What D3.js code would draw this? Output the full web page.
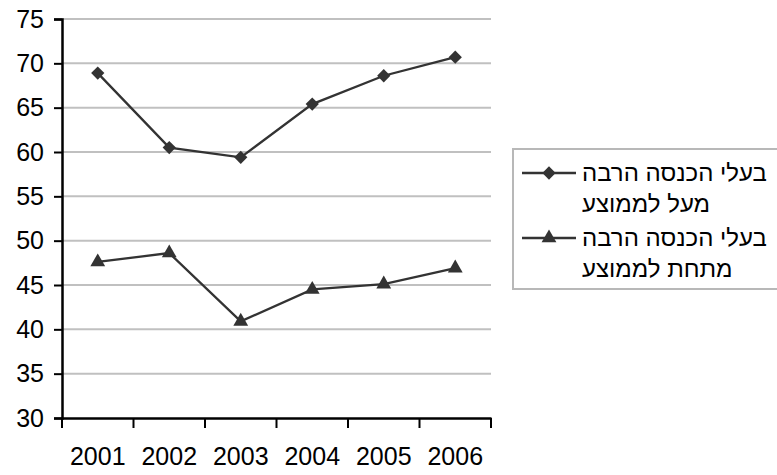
<!DOCTYPE html>
<html>
<head>
<meta charset="utf-8">
<script src="https://cdn.jsdelivr.net/npm/d3@7"></script>
<style>
  body { margin: 0; background: #fff; }
  svg { display: block; font-family: Arial, "Liberation Sans", sans-serif; }
</style>
</head>
<body>
<svg width="777" height="475"></svg>
<script>
const years = ["2001", "2002", "2003", "2004", "2005", "2006"];
const aboveAvg = [68.9, 60.5, 59.4, 65.4, 68.6, 70.7];
const belowAvg = [47.6, 48.6, 40.9, 44.5, 45.1, 46.9];
const yTicks = [30, 35, 40, 45, 50, 55, 60, 65, 70, 75];
const legendLabels = [
  ["בעלי הכנסה הרבה", "מעל לממוצע"],
  ["בעלי הכנסה הרבה", "מתחת לממוצע"]
];

const svg = d3.select("svg");
const x = d3.scaleBand().domain(years).range([62, 491]);
const y = d3.scaleLinear().domain([30, 75]).range([418, 19]);
const lineColor = "#333";
const font = "Arial, 'Liberation Sans', sans-serif";

// gridlines
svg.append("g").selectAll("line")
  .data(yTicks.filter(d => d > 30))
  .join("line")
  .attr("x1", 62).attr("x2", 491)
  .attr("y1", d => y(d)).attr("y2", d => y(d))
  .attr("stroke", "#c0c0c0").attr("stroke-width", 2);

// y axis
const yAxis = svg.append("g")
  .attr("transform", "translate(62,0)")
  .call(d3.axisLeft(y).tickValues(yTicks).tickSize(8).tickPadding(10));
yAxis.selectAll("text").attr("font-size", 25).attr("fill", "#000").attr("font-family", font);

// x axis, ticks at the band edges
const xAxis = svg.append("g")
  .attr("transform", "translate(0,418)")
  .call(d3.axisBottom(x).tickSize(0).tickPadding(29));
xAxis.selectAll("text").attr("font-size", 25).attr("fill", "#000").attr("font-family", font);
xAxis.append("g").selectAll("line")
  .data(years.concat(["end"]))
  .join("line")
  .attr("x1", (d, i) => i < years.length ? x(d) : x.range()[1])
  .attr("x2", (d, i) => i < years.length ? x(d) : x.range()[1])
  .attr("y1", 0).attr("y2", 10)
  .attr("stroke", "#000").attr("stroke-width", 2);

svg.selectAll(".domain").attr("stroke", "#000").attr("stroke-width", 2.5);
yAxis.selectAll(".tick line").attr("stroke", "#000").attr("stroke-width", 2);

const cx = d => x(d) + x.bandwidth() / 2;
const line = d3.line().x((d, i) => cx(years[i])).y(d => y(d));

const diamond = d3.symbol().type(d3.symbolSquare).size(88);
const triangle = d3.symbol().type(d3.symbolTriangle).size(95);

const series = [
  { values: aboveAvg, sym: diamond, rot: 45 },
  { values: belowAvg, sym: triangle, rot: 0 }
];

series.forEach(s => {
  svg.append("path")
    .attr("d", line(s.values))
    .attr("fill", "none")
    .attr("stroke", lineColor)
    .attr("stroke-width", 2.3);
  svg.append("g").selectAll("path")
    .data(s.values)
    .join("path")
    .attr("d", s.sym())
    .attr("transform", (d, i) => `translate(${cx(years[i])},${y(d)}) rotate(${s.rot})`)
    .attr("fill", lineColor);
});

// legend
const legend = svg.append("g");
legend.append("rect")
  .attr("x", 513).attr("y", 149)
  .attr("width", 300).attr("height", 140)
  .attr("fill", "#fff")
  .attr("stroke", "#b8b8b8").attr("stroke-width", 2);

series.forEach((s, i) => {
  const ly = 173 + i * 65;
  legend.append("line")
    .attr("x1", 522).attr("x2", 576)
    .attr("y1", ly).attr("y2", ly)
    .attr("stroke", lineColor).attr("stroke-width", 2.3);
  legend.append("path")
    .attr("d", s.sym())
    .attr("transform", `translate(549,${ly}) rotate(${s.rot})`)
    .attr("fill", lineColor);
  legendLabels[i].forEach((t, j) => {
    legend.append("text")
      .attr("x", 582)
      .attr("y", ly + 8 + j * 31)
      .attr("font-size", 24)
      .attr("fill", "#000")
      .text(t);
  });
});
</script>
</body>
</html>
